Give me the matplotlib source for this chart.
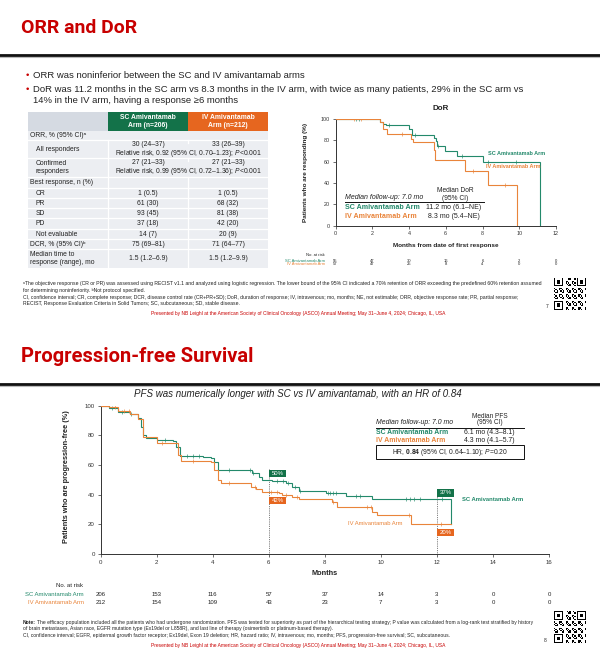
import numpy as np
import matplotlib
matplotlib.use('Agg')
import matplotlib.pyplot as plt
from matplotlib.patches import Rectangle
from matplotlib.lines import Line2D
from matplotlib import font_manager as fm
import matplotlib.transforms as mtrans

# ---------------- data ----------------
bullets = [
    "ORR was noninferior between the SC and IV amivantamab arms",
    "DoR was 11.2 months in the SC arm vs 8.3 months in the IV arm, with twice as many patients, 29% in the SC arm vs",
    "14% in the IV arm, having a response \u22656 months",
]
table_header = ["SC Amivantamab\nArm (n=206)", "IV Amivantamab\nArm (n=212)"]
table_labels = ["ORR, % (95% CI)\u1d43", "All responders", "Confirmed\nresponders",
                "Best response, n (%)", "CR", "PR", "SD", "PD", "Not evaluable",
                "DCR, % (95% CI)\u1d47", "Median time to\nresponse (range), mo"]
table_sc = ["", "30 (24\u201337)", "27 (21\u201333)", "", "1 (0.5)", "61 (30)", "93 (45)",
            "37 (18)", "14 (7)", "75 (69\u201381)", "1.5 (1.2\u20136.9)"]
table_iv = ["", "33 (26\u201339)", "27 (21\u201333)", "", "1 (0.5)", "68 (32)", "81 (38)",
            "42 (20)", "20 (9)", "71 (64\u201377)", "1.5 (1.2\u20139.9)"]
table_rr = {1: "Relative risk, 0.92 (95% CI, 0.70\u20131.23); $\\mathit{P}$<0.001",
            2: "Relative risk, 0.99 (95% CI, 0.72\u20131.36); $\\mathit{P}$<0.001"}

# DoR Kaplan-Meier (months, % responding)
dor_sc_t = [0, 2.44, 2.6, 2.75, 3.98, 4.16, 5.34, 5.47, 5.52, 5.95, 6.6, 8.05, 11.15]
dor_sc_s = [100, 97, 95.5, 94, 91, 85, 82, 79, 75, 70, 65.5, 60, 0]
dor_iv_t = [0, 2.44, 2.6, 2.8, 4.1, 4.2, 5.34, 5.42, 7.06, 8.29, 9.86]
dor_iv_s = [100, 97, 91, 85.5, 81, 78, 71, 62, 51, 38.5, 0]
dor_sc_cens = [1.1, 1.3, 2.9, 4.3, 5.6, 6.9, 8.3, 9.8]
dor_iv_cens = [1.0, 1.4, 3.6, 7.5, 9.2]
dor_months = [0, 2, 4, 6, 8, 10, 12]
dor_risk_sc = [55, 47, 30, 16, 6, 2, 0]
dor_risk_iv = [57, 47, 25, 8, 4, 0, 0]

# PFS Kaplan-Meier (months, % progression-free)
pfs_sc_t = [0, 0.3, 0.64, 1.05, 1.35, 1.46, 1.52, 1.64, 2.0, 2.58, 2.7, 2.82, 3.65, 3.94,
            4.06, 4.18, 5.3, 5.42, 5.65, 5.77, 6.12, 6.6, 6.83, 7.07, 8.05, 8.75, 9.7, 12.52]
pfs_sc_s = [100, 98.5, 96, 94.4, 91.5, 85.8, 80, 78, 77, 76.4, 72, 66, 65.6, 64.5,
            62, 56.6, 56.6, 54.4, 51.7, 49.9, 49.4, 47.6, 45.4, 42.3, 41, 39.4, 37.4, 20]
pfs_iv_t = [0, 0.3, 0.64, 1.05, 1.35, 1.52, 2.0, 2.64, 2.76, 2.88, 3.94, 4.06, 4.18, 4.3,
            5.18, 5.36, 5.53, 5.77, 6.36, 6.48, 6.83, 7.07, 8.27, 8.45, 9.7, 9.85, 11.07, 12.52]
pfs_iv_s = [100, 99, 96.6, 94.2, 90.8, 79, 75, 74.6, 66.7, 63, 62.2, 56.6, 49.9, 48,
            47.6, 45.4, 43.6, 42, 41.3, 39.8, 38.2, 37, 35, 32, 28.5, 26.3, 20, 20]
pfs_sc_cens = [0.4, 0.75, 1.1, 2.3, 3.1, 3.3, 3.5, 4.6, 5.35, 5.45, 6.3, 6.5, 6.7, 6.95,
               7.1, 8.1, 8.2, 8.3, 8.4, 9.1, 9.25, 10.9, 11.05, 11.2, 11.4, 12.2]
pfs_iv_cens = [0.5, 0.85, 1.0, 2.2, 3.3, 4.6, 5.5, 6.1, 6.3, 6.6, 7.0, 8.3, 9.5, 9.65, 11.0, 12.15]
pfs_months = [0, 2, 4, 6, 8, 10, 12, 14, 16]
pfs_risk_sc = [206, 153, 116, 57, 37, 14, 3, 0, 0]
pfs_risk_iv = [212, 154, 109, 43, 23, 7, 3, 0, 0]
pfs_landmarks = [(6, "50%", "42%"), (12, "37%", "20%")]

# ---------------- style ----------------
W, H = 600, 663
GREEN = '#23896b'
GREEN_D = '#137249'
ORANGE = '#e9843a'
ORANGE_D = '#e6661f'
RED = '#c80000'
TXT = '#222222'


def has_font(name):
    try:
        fm.findfont(fm.FontProperties(family=name), fallback_to_default=False)
        return True
    except Exception:
        return False


BASE = 'Liberation Sans'
TITLEF = 'Liberation Sans Narrow' if has_font('Liberation Sans Narrow') else 'Roboto'
plt.rcParams['font.family'] = [BASE, 'DejaVu Sans']
plt.rcParams['mathtext.fontset'] = 'custom'
plt.rcParams['mathtext.rm'] = BASE
plt.rcParams['mathtext.it'] = BASE + ':italic'
plt.rcParams['mathtext.bf'] = BASE + ':bold'

fig = plt.figure(figsize=(6, 6.63), dpi=100)
fig.patch.set_facecolor('white')
R = fig.canvas.get_renderer()


def fx(x):
    return x / W


def fy(y):
    return 1 - y / H


def T(x, y, s, size=5, ha='left', va='center', color=TXT, **kw):
    return fig.text(fx(x), fy(y), s, fontsize=size, ha=ha, va=va, color=color, **kw)


def size_for(s, width, **kw):
    t = fig.text(0, 0, s, fontsize=10, **kw)
    w = t.get_window_extent(R).width
    t.remove()
    return 10 * width / w


def rect(x0, y0, x1, y1, fc, ec='none', lw=0, z=0):
    fig.add_artist(Rectangle((fx(x0), fy(y1)), (x1 - x0) / W, (y1 - y0) / H,
                             transform=fig.transFigure, fc=fc, ec=ec, lw=lw, zorder=z))


def hline(x0, x1, y, color='k', lw=0.8, z=1):
    fig.add_artist(Line2D([fx(x0), fx(x1)], [fy(y), fy(y)], transform=fig.transFigure,
                          color=color, lw=lw, zorder=z))


def vline(x, y0, y1, color='white', lw=0.9, z=1):
    fig.add_artist(Line2D([fx(x), fx(x)], [fy(y0), fy(y1)], transform=fig.transFigure,
                          color=color, lw=lw, zorder=z))


def qr(x0, y0, size):
    n = 25
    m = np.zeros((n, n))
    i, j = np.mgrid[0:n, 0:n]
    m[((i * 7 + j * 13 + i * j) % 5) < 2] = 1
    for (a, b) in [(0, 0), (0, n - 7), (n - 7, 0)]:
        m[max(a - 1, 0):a + 8, max(b - 1, 0):b + 8] = 0
        m[a:a + 7, b:b + 7] = 1
        m[a + 1:a + 6, b + 1:b + 6] = 0
        m[a + 2:a + 5, b + 2:b + 5] = 1
    ax = fig.add_axes([fx(x0), fy(y0 + size), size / W, size / H])
    ax.imshow(m, cmap='gray_r', interpolation='nearest')
    ax.axis('off')


def step_val(t, s, c):
    return s[np.searchsorted(t, c, side='right') - 1]


def km(ax, t, s, cens, color, lw=0.8):
    ax.step(t, s, where='post', color=color, lw=lw, zorder=3, solid_joinstyle='miter')
    cv = [step_val(np.array(t), np.array(s), c) for c in cens]
    ax.plot(cens, cv, ls='none', marker='|', ms=2.6, mew=0.45, color=color, zorder=3)


def style_axes(ax, xlim, xticks, fs):
    ax.set_xlim(*xlim)
    ax.set_ylim(0, 100)
    ax.set_xticks(xticks)
    ax.set_yticks([0, 20, 40, 60, 80, 100])
    for sp in ['top', 'right']:
        ax.spines[sp].set_visible(False)
    for sp in ['left', 'bottom']:
        ax.spines[sp].set_linewidth(0.7)
        ax.spines[sp].set_color('#333333')
    ax.tick_params(length=2, width=0.5, pad=2, labelsize=fs, colors='#333333')
    ax.patch.set_alpha(0)


# =============== Slide 1: ORR and DoR =================
T(21, 28, "ORR and DoR", size=size_for("ORR and DoR", 116, family=TITLEF, weight='bold'),
  family=TITLEF, weight='bold', color=RED)
hline(0, 600, 55, color='#111111', lw=2.0, z=2)
hline(0, 600, 57.2, color='#bbbbbb', lw=0.8, z=1)

bsize = size_for(bullets[1], 488)
T(26, 76, "\u2022", size=bsize, color=RED)
T(33, 76, bullets[0], size=bsize)
T(26, 89, "\u2022", size=bsize, color=RED)
T(33, 89, bullets[1], size=bsize)
T(33, 100.5, bullets[2], size=bsize)

# table
tx0, tc1, tc2, tx1 = 28, 108, 188, 268
rect(tx0, 112, tc1, 131, '#d5dae2')
rect(tc1, 112, tc2, 131, GREEN_D)
rect(tc2, 112, tx1, 131, ORANGE_D)
hsz = size_for("SC Amivantamab", 55, weight='bold')
T(148, 121.5, table_header[0], size=hsz, ha='center', color='white', weight='bold', linespacing=1.15)
T(228, 121.5, table_header[1], size=hsz, ha='center', color='white', weight='bold', linespacing=1.15)

bounds = [131, 140, 158.3, 176.7, 187.7, 198.3, 208.3, 218.3, 229, 239, 249.3, 268.3]
rect(tx0, bounds[0], tx1, bounds[-1], '#eceef2')
for yb in bounds[1:-1]:
    hline(tx0, tx1, yb, color='white', lw=0.9, z=1)
vline(tc1, 140, 268.3)
vline(tc2, 176.7, 268.3)
vline(tc2, 140, 143)
vline(tc2, 158.3, 161.3)

lsz = size_for("Best response, n (%)", 63)
indent = [False, True, True, False, True, True, True, True, True, False, False]
for k, lab in enumerate(table_labels):
    yc = (bounds[k] + bounds[k + 1]) / 2
    xl = 36 if indent[k] else 30.5
    if k in table_rr:
        T(xl, yc, lab, size=lsz, linespacing=1.25)
        T(148, yc - 4.5, table_sc[k], size=lsz, ha='center')
        T(228, yc - 4.5, table_iv[k], size=lsz, ha='center')
        T(188, yc + 4.3, table_rr[k], size=lsz, ha='center')
    else:
        T(xl, yc, lab, size=lsz, linespacing=1.25)
        T(148, yc, table_sc[k], size=lsz, ha='center')
        T(228, yc, table_iv[k], size=lsz, ha='center')

# DoR chart
ax1 = fig.add_axes([fx(335.5), fy(225.7), (556 - 335.5) / W, (225.7 - 119) / H])
style_axes(ax1, (0, 12), dor_months, 3.9)
km(ax1, dor_sc_t, dor_sc_s, dor_sc_cens, GREEN)
km(ax1, dor_iv_t, dor_iv_s, dor_iv_cens, ORANGE)
T(441, 108.5, "DoR", size=5.8, ha='center', weight='bold')
T(305, 172, "Patients who are responding (%)", size=size_for("Patients who are responding (%)", 100, weight='bold'),
  ha='center', rotation=90, weight='bold')
T(446, 245, "Months from date of first response",
  size=size_for("Months from date of first response", 105, weight='bold'), ha='center', weight='bold')
lab_sz = size_for("SC Amivantamab Arm", 57, weight='bold')
T(488, 153, "SC Amivantamab Arm", size=lab_sz, color=GREEN, weight='bold')
T(486, 166.5, "IV Amivantamab Arm", size=lab_sz, color=ORANGE, weight='bold')
# legend
leg_sz = size_for("Median follow-up: 7.0 mo", 78, style='italic')
T(345, 197, "Median follow-up: 7.0 mo", size=leg_sz, style='italic')
T(455.5, 190.7, "Median DoR", size=leg_sz * 0.95, ha='center')
T(455.5, 198.3, "(95% CI)", size=leg_sz * 0.95, ha='center')
hline(345, 484, 202, color='#111111', lw=0.7)
T(345, 207.5, "SC Amivantamab Arm", size=leg_sz * 1.02, color=GREEN, weight='bold')
T(345, 216.7, "IV Amivantamab Arm", size=leg_sz * 1.02, color=ORANGE, weight='bold')
T(454, 207.5, "11.2 mo (6.1\u2013NE)", size=leg_sz, ha='center')
T(454, 216.7, "8.3 mo (5.4\u2013NE)", size=leg_sz, ha='center')
# at risk
tr1 = mtrans.blended_transform_factory(ax1.transData, fig.transFigure)
rk = 3.0
T(325, 255.5, "No. at risk", size=rk, ha='right')
T(325, 260.6, "SC Amivantamab Arm", size=rk, ha='right', color=GREEN)
T(325, 264.4, "IV Amivantamab Arm", size=rk, ha='right', color=ORANGE)
for m, a, b in zip(dor_months, dor_risk_sc, dor_risk_iv):
    fig.text(m, fy(260.6), str(a), transform=tr1, fontsize=rk, ha='center', va='center', color=TXT)
    fig.text(m, fy(264.4), str(b), transform=tr1, fontsize=rk, ha='center', va='center', color=TXT)

# footnotes slide 1
fn1 = ("\u1d43The objective response (CR or PR) was assessed using RECIST v1.1 and analyzed using logistic regression. "
       "The lower bound of the 95% CI indicated a 70% retention of ORR exceeding the predefined 60% retention assumed")
fsz = size_for(fn1, 512)
T(23, 284, fn1, size=fsz)
T(23, 290.5, "for determining noninferiority. \u1d47Not protocol specified.", size=fsz)
T(23, 297.3, "CI, confidence interval; CR, complete response; DCR, disease control rate (CR+PR+SD); DoR, duration of response; "
  "IV, intravenous; mo, months; NE, not estimable; ORR, objective response rate; PR, partial response;", size=fsz)
T(23, 303.7, "RECIST, Response Evaluation Criteria in Solid Tumors; SC, subcutaneous; SD, stable disease.", size=fsz)
pres = ("Presented by NB Leighl at the American Society of Clinical Oncology (ASCO) Annual Meeting; "
        "May 31\u2013June 4, 2024; Chicago, IL, USA")
psz = size_for(pres, 292)
T(298, 314, pres, size=psz, ha='center', color=RED)
qr(554, 278, 32)
T(547, 307, "7", size=3.5, ha='center')

# =============== Slide 2: PFS =================
T(21, 357, "Progression-free Survival",
  size=size_for("Progression-free Survival", 232, family=TITLEF, weight='bold'),
  family=TITLEF, weight='bold', color=RED)
hline(0, 600, 384, color='#111111', lw=2.0, z=2)
hline(0, 600, 386.2, color='#bbbbbb', lw=0.8, z=1)
sub = "PFS was numerically longer with SC vs IV amivantamab, with an HR of 0.84"
T(298, 394, sub, size=size_for(sub, 330, style='italic'), ha='center', style='italic')

ax2 = fig.add_axes([fx(100.5), fy(554), (549 - 100.5) / W, (554 - 405.7) / H])
style_axes(ax2, (0, 16), pfs_months, 4.4)
km(ax2, pfs_sc_t, pfs_sc_s, pfs_sc_cens, GREEN)
km(ax2, pfs_iv_t, pfs_iv_s, pfs_iv_cens, ORANGE)
box_pos = {6: ((51.9, 56.6), (33.7, 38.2), 57), 12: ((38.6, 43.8), (12.1, 17.1), 44)}
for m, ltop, lbot in pfs_landmarks:
    (g0, g1), (o0, o1), top = box_pos[m]
    ax2.plot([m, m], [0, top], ls=(0, (1, 1.2)), color='#555555', lw=0.6, zorder=2)
    ax2.add_patch(Rectangle((m + 0.02, g0), 0.6, g1 - g0, fc=GREEN_D, ec='none', zorder=4))
    ax2.add_patch(Rectangle((m + 0.02, o0), 0.6, o1 - o0, fc=ORANGE_D, ec='none', zorder=4))
    ax2.text(m + 0.32, (g0 + g1) / 2, ltop, fontsize=4.3, color='white', ha='center', va='center', zorder=5)
    ax2.text(m + 0.32, (o0 + o1) / 2, lbot, fontsize=4.3, color='white', ha='center', va='center', zorder=5)
T(66, 477, "Patients who are progression-free (%)",
  size=size_for("Patients who are progression-free (%)", 133, weight='bold'), ha='center', rotation=90, weight='bold')
T(325, 573.7, "Months", size=size_for("Months", 26, weight='bold'), ha='center', weight='bold')
lab2 = size_for("SC Amivantamab Arm", 61, weight='bold')
T(462, 499.7, "SC Amivantamab Arm", size=lab2, color=GREEN, weight='bold')
T(348, 523.3, "IV Amivantamab Arm", size=lab2, color=ORANGE)
# legend
l2 = size_for("Median follow-up: 7.0 mo", 77, style='italic')
T(376.5, 422, "Median follow-up: 7.0 mo", size=l2, style='italic')
T(490, 416, "Median PFS", size=l2 * 0.95, ha='center')
T(490, 422.3, "(95% CI)", size=l2 * 0.95, ha='center')
hline(376, 524, 427.5, color='#111111', lw=0.7)
T(376.5, 432.7, "SC Amivantamab Arm", size=l2, color=GREEN, weight='bold')
T(376.5, 441, "IV Amivantamab Arm", size=l2, color=ORANGE, weight='bold')
T(489, 432.7, "6.1 mo (4.3\u20138.1)", size=l2, ha='center')
T(489, 441, "4.3 mo (4.1\u20135.7)", size=l2, ha='center')
rect(376, 445, 524, 458.7, 'white', ec='#111111', lw=0.7, z=1)
hr = "HR, $\\mathbf{0.84}$ (95% CI, 0.64\u20131.10); $\\mathit{P}$=0.20"
T(450, 452, hr, size=size_for(hr, 115), ha='center')
# at risk
tr2 = mtrans.blended_transform_factory(ax2.transData, fig.transFigure)
rk2 = 4.3
T(83.5, 585.3, "No. at risk", size=rk2, ha='right')
T(83.5, 594, "SC Amivantamab Arm", size=rk2, ha='right', color=GREEN)
T(83.5, 602.3, "IV Amivantamab Arm", size=rk2, ha='right', color=ORANGE)
for m, a, b in zip(pfs_months, pfs_risk_sc, pfs_risk_iv):
    fig.text(m, fy(594), str(a), transform=tr2, fontsize=rk2, ha='center', va='center', color=TXT)
    fig.text(m, fy(602.3), str(b), transform=tr2, fontsize=rk2, ha='center', va='center', color=TXT)

# notes slide 2
n1 = ("The efficacy population included all the patients who had undergone randomization. PFS was tested for "
      "superiority as part of the hierarchical testing strategy; P value was calculated from a log-rank test stratified by history")
nsz = size_for("Note: " + n1, 497)
t_note = T(23, 622.7, "Note:", size=nsz, weight='bold')
wn = t_note.get_window_extent(R).width
T(23 + wn + 1.0, 622.7, n1, size=nsz)
T(23, 628.3, "of brain metastases, Asian race, EGFR mutation type (Ex19del or L858R), and last line of therapy "
  "(osimertinib or platinum-based therapy).", size=nsz)
T(23, 635.7, "CI, confidence interval; EGFR, epidermal growth factor receptor; Ex19del, Exon 19 deletion; HR, hazard ratio; "
  "IV, intravenous; mo, months; PFS, progression-free survival; SC, subcutaneous.", size=nsz)
T(298, 646, pres, size=psz, ha='center', color=RED)
qr(554, 611, 32)
T(545, 640.5, "8", size=3.5, ha='center')

fig.savefig('out.png', dpi=100, facecolor='white')
